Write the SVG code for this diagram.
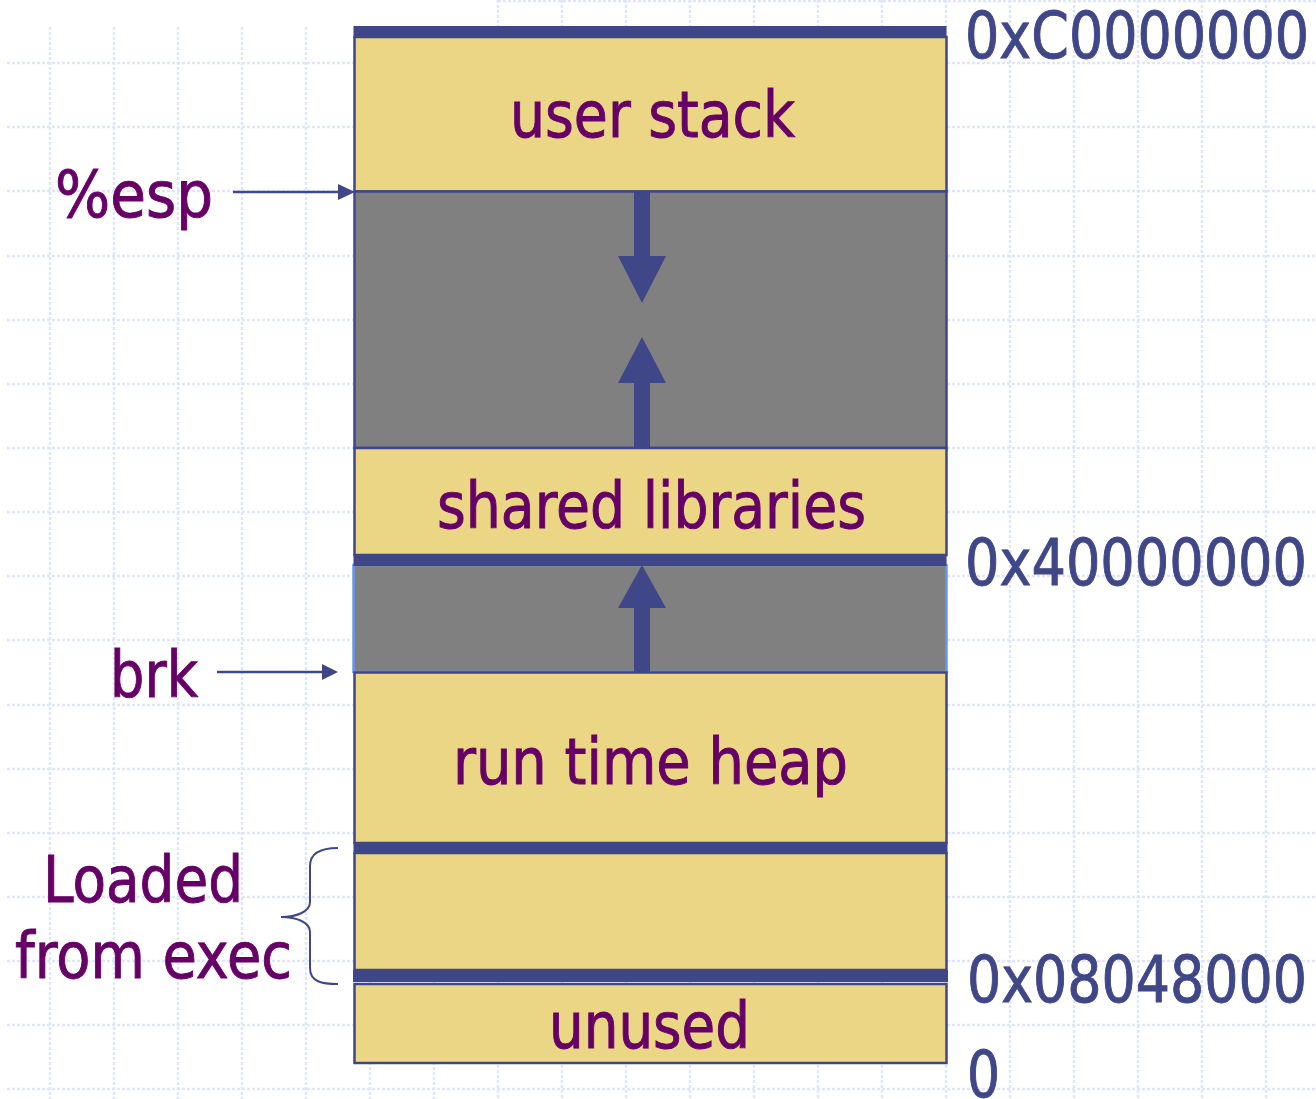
<svg xmlns="http://www.w3.org/2000/svg" width="1316" height="1099" viewBox="0 0 1316 1099">
<style>
.grid{stroke:#dfe6fb;stroke-width:2.5;stroke-dasharray:3 2;fill:none}
.seg{stroke:#404788;stroke-width:2.5}
.yel{fill:#ead684}
.gray{fill:#808080}
.bar{fill:#404788}
.lbl{font-family:"DejaVu Sans Condensed","DejaVu Sans",sans-serif;font-size:64px;fill:#660066;stroke:#660066;stroke-width:0.9}
.addr{font-family:"DejaVu Sans Condensed","DejaVu Sans",sans-serif;font-size:64px;fill:#404788;stroke:#404788;stroke-width:0.9}
.arw{fill:#404788}
</style>
<rect width="1316" height="1099" fill="#ffffff"/>
<g id="grid">
<path class="grid" d="M50,27V1099 M114,27V1099 M178,27V1099 M242,27V1099 M306,27V1099 M370,27V1099 M434,27V1099 M498,0V1099 M562,0V1099 M626,0V1099 M690,0V1099 M754,0V1099 M818,0V1099 M882,0V1099 M946,0V1099 M1010,0V1099 M1074,0V1099 M1138,0V1099 M1202,0V1099 M1266,0V1099"/>
<path class="grid" d="M498,1H1316 M7,63H1316 M7,127H1316 M7,191H1316 M7,256H1316 M7,320H1316 M7,384H1316 M7,448H1316 M7,512H1316 M7,576H1316 M7,640H1316 M7,705H1316 M7,769H1316 M7,833H1316 M7,897H1316 M7,961H1316 M7,1025H1316 M7,1089H1316"/>
</g>
<g id="user-stack">
<rect class="yel seg" x="354.5" y="37" width="592" height="154.5"/>
<rect class="bar" x="353.5" y="26" width="593" height="12"/>
<text class="lbl" x="510" y="137" textLength="285" lengthAdjust="spacingAndGlyphs">user stack</text>
</g>
<g id="free-stack-heap">
<rect class="gray seg" x="354.5" y="191.5" width="592" height="256.5"/>
</g>
<g id="shared-libraries">
<rect class="yel seg" x="354.5" y="448" width="592" height="107"/>
<text class="lbl" x="437" y="528" textLength="429" lengthAdjust="spacingAndGlyphs">shared libraries</text>
</g>
<g id="free-heap">
<rect class="gray" x="353.5" y="565" width="593" height="107" stroke="#6699ee" stroke-width="2.5"/>
<rect class="bar" x="353.5" y="554" width="593" height="12"/>
</g>
<g id="run-time-heap">
<rect class="yel seg" x="354.5" y="672.5" width="592" height="170.5"/>
<text class="lbl" x="453" y="784" textLength="395" lengthAdjust="spacingAndGlyphs">run time heap</text>
</g>
<g id="loaded-from-exec">
<rect class="yel seg" x="354.5" y="853" width="592" height="117"/>
<rect class="bar" x="353.5" y="842" width="594" height="12"/>
<rect class="bar" x="353" y="970" width="595" height="12"/>
</g>
<g id="unused">
<rect class="yel seg" x="354.5" y="984" width="592" height="79"/>
<text class="lbl" x="549" y="1048" textLength="201" lengthAdjust="spacingAndGlyphs">unused</text>
</g>
<g id="addresses">
<text class="addr" x="965" y="58" textLength="344" lengthAdjust="spacingAndGlyphs">0xC0000000</text>
<text class="addr" x="965" y="585" textLength="342" lengthAdjust="spacingAndGlyphs">0x40000000</text>
<text class="addr" x="967" y="1002" textLength="340" lengthAdjust="spacingAndGlyphs">0x08048000</text>
<text class="addr" x="967" y="1097" textLength="33" lengthAdjust="spacingAndGlyphs">0</text>
</g>
<g id="labels">
<text class="lbl" x="55" y="217" textLength="158" lengthAdjust="spacingAndGlyphs">%esp</text>
<text class="lbl" x="110" y="697" textLength="88" lengthAdjust="spacingAndGlyphs">brk</text>
<text class="lbl" x="43" y="902" textLength="200" lengthAdjust="spacingAndGlyphs">Loaded</text>
<text class="lbl" x="15" y="978" textLength="277" lengthAdjust="spacingAndGlyphs">from exec</text>
<path d="M338,848 C322,848 310,852 310,866 L310,902 C310,912 296,917 281,917 C296,917 310,922 310,932 L310,968 C310,982 322,984 338,984" fill="none" stroke="#404788" stroke-width="2"/>
</g>
<g id="connectors">
<rect class="arw" x="634" y="192" width="16" height="65"/>
<polygon class="arw" points="618,256 666,256 642,303"/>
<polygon class="arw" points="642,337 618,383 666,383"/>
<rect class="arw" x="634" y="382" width="16" height="66"/>
<polygon class="arw" points="642,565 618,608 666,608"/>
<rect class="arw" x="634" y="607" width="16" height="65"/>
<line x1="233" y1="192" x2="340" y2="192" stroke="#404788" stroke-width="2.5"/>
<polygon class="arw" points="338,184 355,192 338,200"/>
<line x1="217" y1="672" x2="325" y2="672" stroke="#404788" stroke-width="2.5"/>
<polygon class="arw" points="322,664 338,672 322,680"/>
</g>
</svg>
